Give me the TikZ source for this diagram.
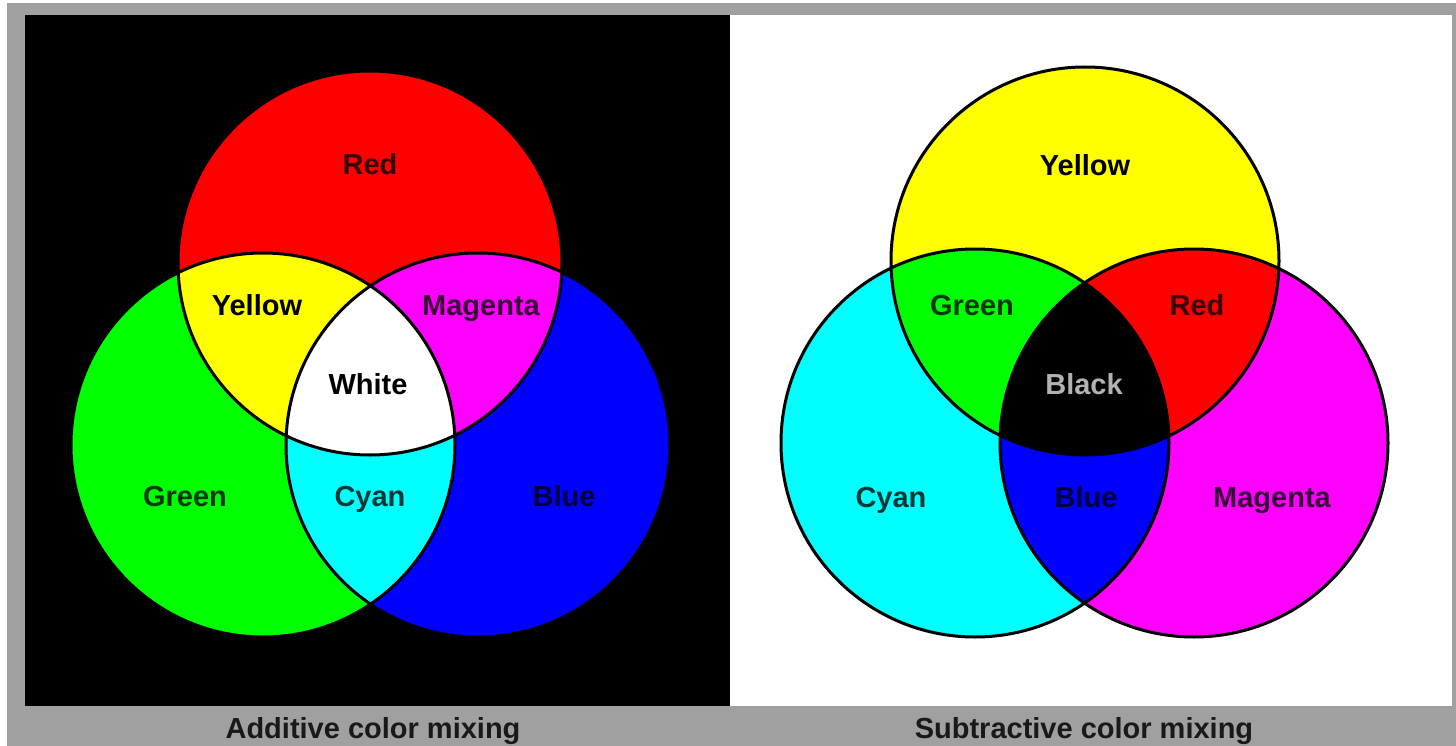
\documentclass[tikz,border=0pt]{standalone}
\usepackage{fontspec}
\setmainfont{Liberation Sans}
\usetikzlibrary{positioning}

\definecolor{framegray}{RGB}{160,160,160}
\definecolor{labelgray}{RGB}{178,178,178}
\definecolor{mixRed}{RGB}{255,0,0}
\definecolor{mixGreen}{RGB}{0,255,0}
\definecolor{mixBlue}{RGB}{0,0,255}
\definecolor{mixYellow}{RGB}{255,255,0}
\definecolor{mixCyan}{RGB}{0,255,255}
\definecolor{mixMagenta}{RGB}{255,0,255}

% discs of the two diagrams
\newcommand\RedDisc{(370,263) circle (192)}
\newcommand\GreenDisc{(263,445) circle (192)}
\newcommand\BlueDisc{(478,445) circle (192)}
\newcommand\YellowDisc{(1085,261) circle (194)}
\newcommand\CyanDisc{(975,443) circle (194)}
\newcommand\MagentaDisc{(1194,443) circle (194)}

\begin{document}
\begin{tikzpicture}[x=1pt,y=-1pt,
    every node/.style={font=\fontsize{29}{34}\selectfont\bfseries,anchor=base},
    rim/.style={line width=3pt,draw=black},
    lbl/.style={text=#1!22!black}]
  \useasboundingbox (0,0) rectangle (1456,746);
  \fill[white] (0,0) rectangle (1456,746);
  \fill[framegray] (7,3) rectangle (1456,746);
  \fill[black] (25,15) rectangle (730,706);
  \fill[white] (730,15) rectangle (1452,706);

  % additive
  \fill[mixRed]   \RedDisc;
  \fill[mixGreen] \GreenDisc;
  \fill[mixBlue]  \BlueDisc;
  \begin{scope} \clip \RedDisc;   \fill[mixYellow]  \GreenDisc; \end{scope}
  \begin{scope} \clip \RedDisc;   \fill[mixMagenta] \BlueDisc;  \end{scope}
  \begin{scope} \clip \GreenDisc; \fill[mixCyan]    \BlueDisc;  \end{scope}
  \begin{scope} \clip \RedDisc; \clip \GreenDisc; \fill[white] \BlueDisc; \end{scope}
  \draw[rim] \RedDisc \GreenDisc \BlueDisc;

  % subtractive
  \fill[mixYellow]  \YellowDisc;
  \fill[mixCyan]    \CyanDisc;
  \fill[mixMagenta] \MagentaDisc;
  \begin{scope} \clip \YellowDisc; \fill[mixGreen] \CyanDisc;    \end{scope}
  \begin{scope} \clip \YellowDisc; \fill[mixRed]   \MagentaDisc; \end{scope}
  \begin{scope} \clip \CyanDisc;   \fill[mixBlue]  \MagentaDisc; \end{scope}
  \begin{scope} \clip \YellowDisc; \clip \CyanDisc; \fill[black] \MagentaDisc; \end{scope}
  \draw[rim] \YellowDisc \CyanDisc \MagentaDisc;

  \node[lbl=mixRed]     (addR) at (370,175) {Red};
  \node                 (addY) at (257,315) {Yellow};
  \node[lbl=mixMagenta] (addM) at (481,315) {Magenta};
  \node                 (addW) at (368,394) {White};
  \node[lbl=mixGreen]   (addG) at (185,506) {Green};
  \node[lbl=mixCyan]    (addC) at (370,506) {Cyan};
  \node[lbl=mixBlue]    (addB) at (564,506) {Blue};
  \node[text=black!90]  (addT) at (373,738) {Additive color mixing};

  \node                 (subY) at (1085,176) {Yellow};
  \node[lbl=mixGreen]   (subG) at (972,315)  {Green};
  \node[lbl=mixRed]     (subR) at (1197,315) {Red};
  \node[text=labelgray] (subK) at (1084,394) {Black};
  \node[lbl=mixCyan]    (subC) at (891,507)  {Cyan};
  \node[lbl=mixBlue]    (subB) at (1086,507) {Blue};
  \node[lbl=mixMagenta] (subM) at (1272,507) {Magenta};
  \node[text=black!90]  (subT) at (1084,738) {Subtractive color mixing};
\end{tikzpicture}
\end{document}
